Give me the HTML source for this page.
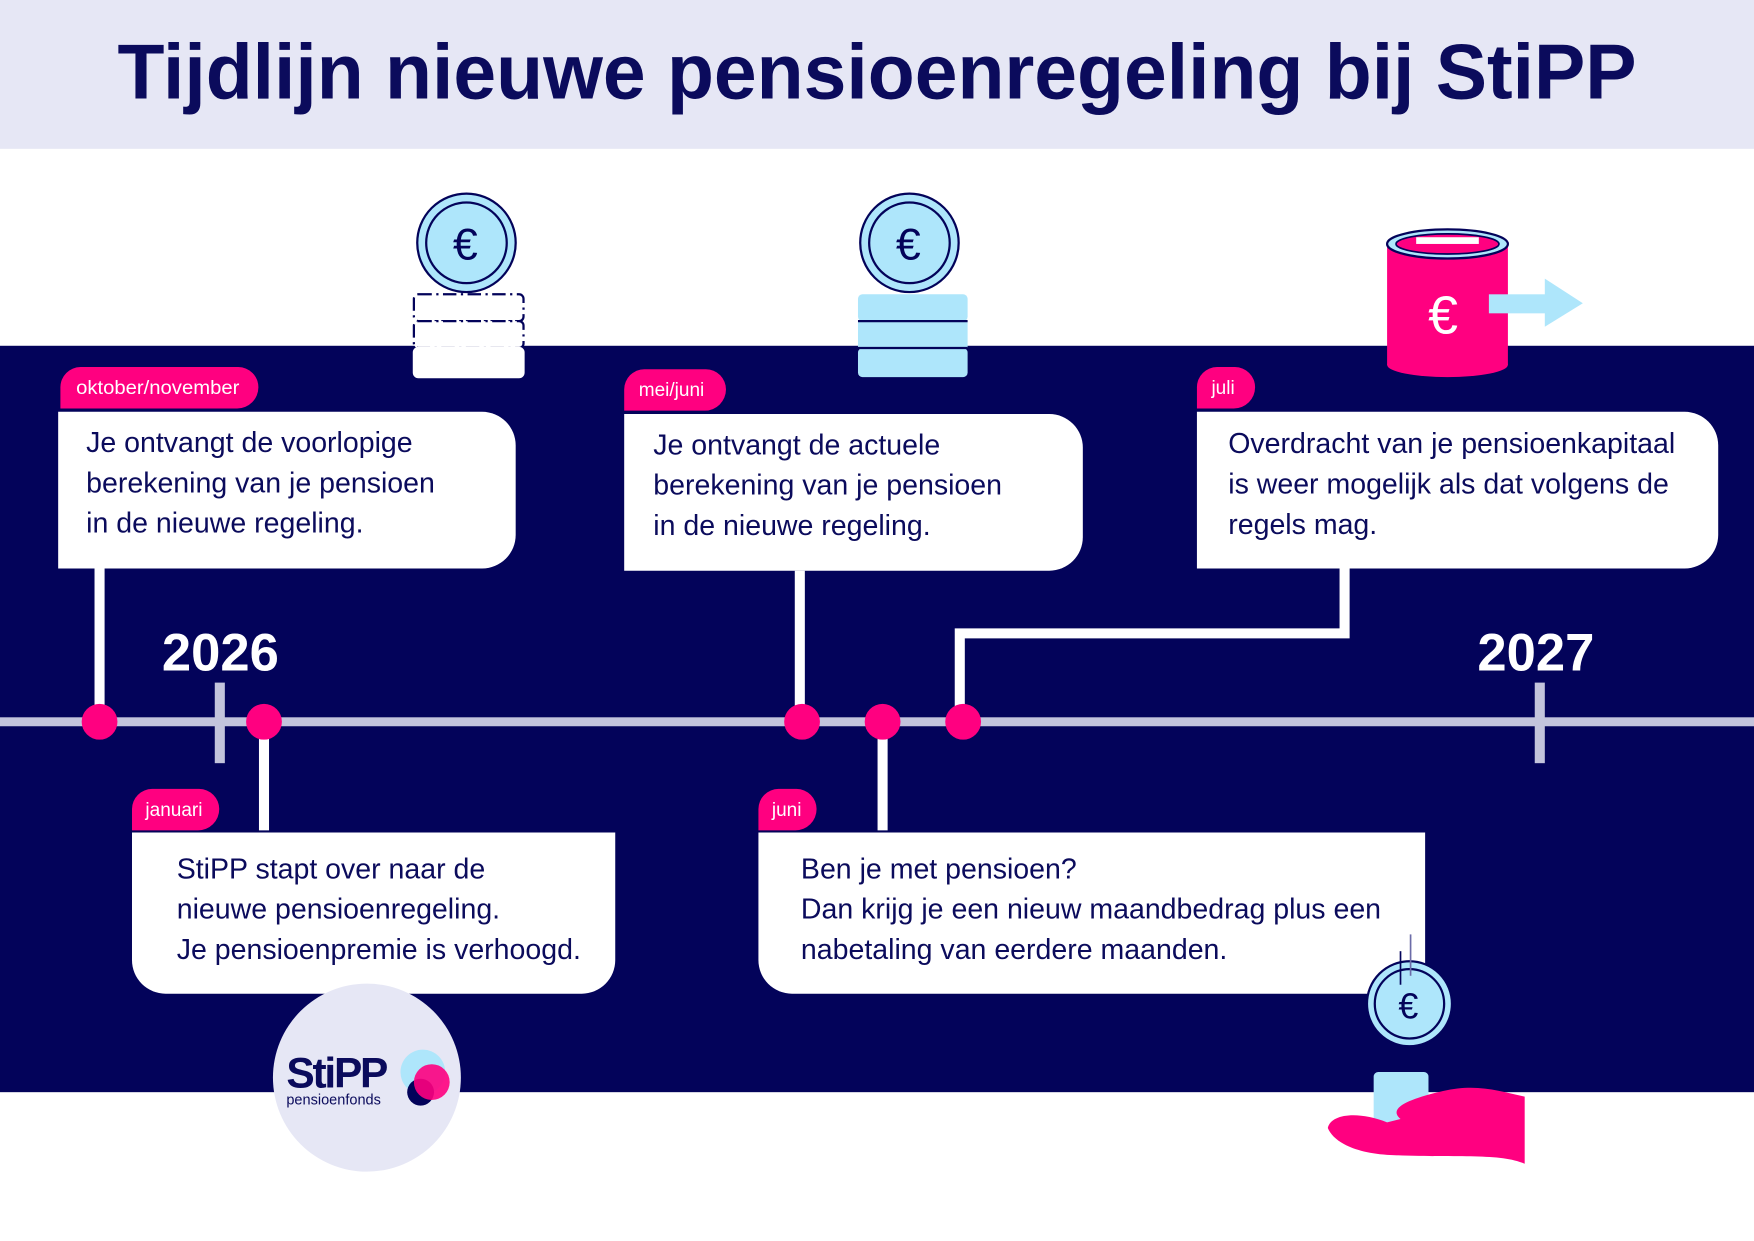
<!DOCTYPE html>
<html><head><meta charset="utf-8"><style>html,body{margin:0;padding:0;background:#fff}svg{display:block}text{font-family:"Liberation Sans",sans-serif}</style></head>
<body>
<svg width="1754" height="1241" viewBox="0 0 1568 1109" preserveAspectRatio="none" xmlns="http://www.w3.org/2000/svg">
<rect x="0" y="0" width="1568" height="1109" fill="#fff"/>
<rect x="0" y="0" width="1568" height="133" fill="#e6e7f5"/>
<text x="784" y="88" text-anchor="middle" font-size="70" font-weight="bold" fill="#0b0b5c" textLength="1358" lengthAdjust="spacingAndGlyphs">Tijdlijn nieuwe pensioenregeling bij StiPP</text>
<rect x="0" y="309" width="1568" height="667" fill="#03035a"/>
<rect x="0" y="641" width="1568" height="8" fill="#c3c4dc"/>
<rect x="192" y="610" width="9" height="72" fill="#c3c4dc"/>
<rect x="1372" y="610" width="9" height="72" fill="#c3c4dc"/>
<text x="197" y="599" text-anchor="middle" font-size="47" font-weight="bold" fill="#fff">2026</text>
<text x="1373" y="599" text-anchor="middle" font-size="47" font-weight="bold" fill="#fff">2027</text>
<g stroke="#fff" stroke-width="9" fill="none">
<line x1="89" y1="508" x2="89" y2="645"/>
<line x1="236" y1="645" x2="236" y2="742"/>
<line x1="715" y1="510" x2="715" y2="645"/>
<line x1="789" y1="645" x2="789" y2="742"/>
<path d="M858 645 V566 H1202 V508"/>
</g>
<g fill="#ff0080">
<circle cx="89" cy="645" r="16"/><circle cx="236" cy="645" r="16"/><circle cx="717" cy="645" r="16"/><circle cx="789" cy="645" r="16"/><circle cx="861" cy="645" r="16"/>
</g>
<g fill="#fff">
<path d="M52 368 H431 A30 30 0 0 1 461 398 V478 A30 30 0 0 1 431 508 H52 Z"/>
<path d="M558 370 H938 A30 30 0 0 1 968 400 V480 A30 30 0 0 1 938 510 H558 Z"/>
<path d="M1070 368 H1506 A30 30 0 0 1 1536 398 V478 A30 30 0 0 1 1506 508 H1070 Z"/>
<path d="M118 744 H550 V858 A30 30 0 0 1 520 888 H148 A30 30 0 0 1 118 858 Z"/>
<path d="M678 744 H1274 V888 H708 A30 30 0 0 1 678 858 Z"/>
</g>
<g fill="#ff0080">
<path d="M54 365 V346 A18 18 0 0 1 72 328 H213 A18 18 0 0 1 231 346 A19 19 0 0 1 212 365 Z"/>
<path d="M558 367 V348 A18 18 0 0 1 576 330 H631 A18 18 0 0 1 649 348 A19 19 0 0 1 630 367 Z"/>
<path d="M1070 365 V346 A18 18 0 0 1 1088 328 H1104 A18 18 0 0 1 1122 346 A19 19 0 0 1 1103 365 Z"/>
<path d="M118 742 V723 A18 18 0 0 1 136 705 H178 A18 18 0 0 1 196 723 A19 19 0 0 1 177 742 Z"/>
<path d="M678 742 V723 A18 18 0 0 1 696 705 H712 A18 18 0 0 1 730 723 A19 19 0 0 1 711 742 Z"/>
</g>
<g fill="#fff" font-size="17">
<text x="68" y="352" textLength="146" lengthAdjust="spacingAndGlyphs">oktober/november</text>
<text x="571" y="354">mei/juni</text>
<text x="1083" y="352">juli</text>
<text x="130" y="729">januari</text>
<text x="690" y="729">juni</text>
</g>
<g fill="#0b0b5c" font-size="25.5">
<text x="77" y="404">Je ontvangt de voorlopige</text>
<text x="77" y="440">berekening van je pensioen</text>
<text x="77" y="476">in de nieuwe regeling.</text>
<text x="584" y="406">Je ontvangt de actuele</text>
<text x="584" y="442">berekening van je pensioen</text>
<text x="584" y="478">in de nieuwe regeling.</text>
<text x="1098" y="405">Overdracht van je pensioenkapitaal</text>
<text x="1098" y="441">is weer mogelijk als dat volgens de</text>
<text x="1098" y="477">regels mag.</text>
<text x="158" y="785">StiPP stapt over naar de</text>
<text x="158" y="821">nieuwe pensioenregeling.</text>
<text x="158" y="857">Je pensioenpremie is verhoogd.</text>
<text x="716" y="785">Ben je met pensioen?</text>
<text x="716" y="821">Dan krijg je een nieuw maandbedrag plus een</text>
<text x="716" y="857">nabetaling van eerdere maanden.</text>
</g>
<circle cx="328" cy="963" r="84" fill="#e6e7f5"/>
<text x="256" y="972" font-size="38" font-weight="bold" fill="#0b0b5c" letter-spacing="-2">StiPP</text>
<text x="256" y="987" font-size="13" fill="#0b0b5c">pensioenfonds</text>
<circle cx="378" cy="958" r="20" fill="#aee6fb"/>
<circle cx="376" cy="976" r="12" fill="#03035a"/>
<circle cx="386" cy="967" r="16" fill="#ff0080" opacity="0.9"/>
<g stroke="#03035a" stroke-width="2">
<rect x="370" y="263" width="98" height="24" rx="4" fill="#fff" stroke-dasharray="12 4 2 4"/>
<rect x="370" y="287" width="98" height="24" rx="4" fill="#fff" stroke-dasharray="12 4 2 4"/>
<rect x="370" y="311" width="98" height="26" rx="4" fill="#fff" stroke="#fff"/>
<circle cx="417" cy="217" r="44" fill="#aee6fb"/>
<circle cx="417" cy="217" r="36" fill="#aee6fb"/>
<rect x="767" y="263" width="98" height="24" rx="4" fill="#aee6fb" stroke="none"/>
<rect x="767" y="287" width="98" height="24" fill="#aee6fb" stroke="none"/>
<rect x="767" y="311" width="98" height="26" rx="4" fill="#aee6fb" stroke="none"/>
<line x1="767" y1="287" x2="865" y2="287"/><line x1="767" y1="311" x2="865" y2="311"/>
<circle cx="813" cy="217" r="44" fill="#aee6fb"/>
<circle cx="813" cy="217" r="36" fill="#aee6fb"/>
<circle cx="1260" cy="897" r="38" fill="#aee6fb"/>
<circle cx="1260" cy="897" r="31" fill="#aee6fb"/>
</g>
<g fill="#03035a" font-size="40" text-anchor="middle">
<text x="416" y="232">€</text><text x="812" y="232">€</text>
<text x="1259" y="910" font-size="32">€</text>
</g>
<line x1="1261" y1="835" x2="1261" y2="872" stroke="#6c6ca8" stroke-width="1.5"/>
<line x1="1252" y1="850" x2="1252" y2="880" stroke="#03035a" stroke-width="1.5"/>
<rect x="1228" y="958" width="49" height="60" rx="4" fill="#aee6fb"/>
<path d="M1187 1008 C1190 995 1215 993 1240 1003 L1252 1000 C1240 990 1260 982 1290 975 C1320 968 1340 975 1363 980 V1040 C1340 1030 1300 1035 1240 1032 C1210 1030 1192 1020 1187 1008 Z" fill="#ff0080"/>
<rect x="1240" y="218" width="108" height="108" fill="#ff0080"/>
<ellipse cx="1294" cy="326" rx="54" ry="11" fill="#ff0080"/>
<ellipse cx="1294" cy="218" rx="54" ry="13" fill="#aee6fb" stroke="#03035a" stroke-width="2"/>
<ellipse cx="1294" cy="218" rx="46" ry="9" fill="#ff0080" stroke="#03035a" stroke-width="1.5"/>
<rect x="1266" y="212" width="56" height="6" fill="#fff"/>
<text x="1290" y="298" text-anchor="middle" font-size="48" fill="#fff">€</text>
<rect x="1331" y="263" width="52" height="17" fill="#aee6fb"/>
<polygon points="1381,249 1415,271 1381,292" fill="#aee6fb"/>
</svg>
</body></html>
